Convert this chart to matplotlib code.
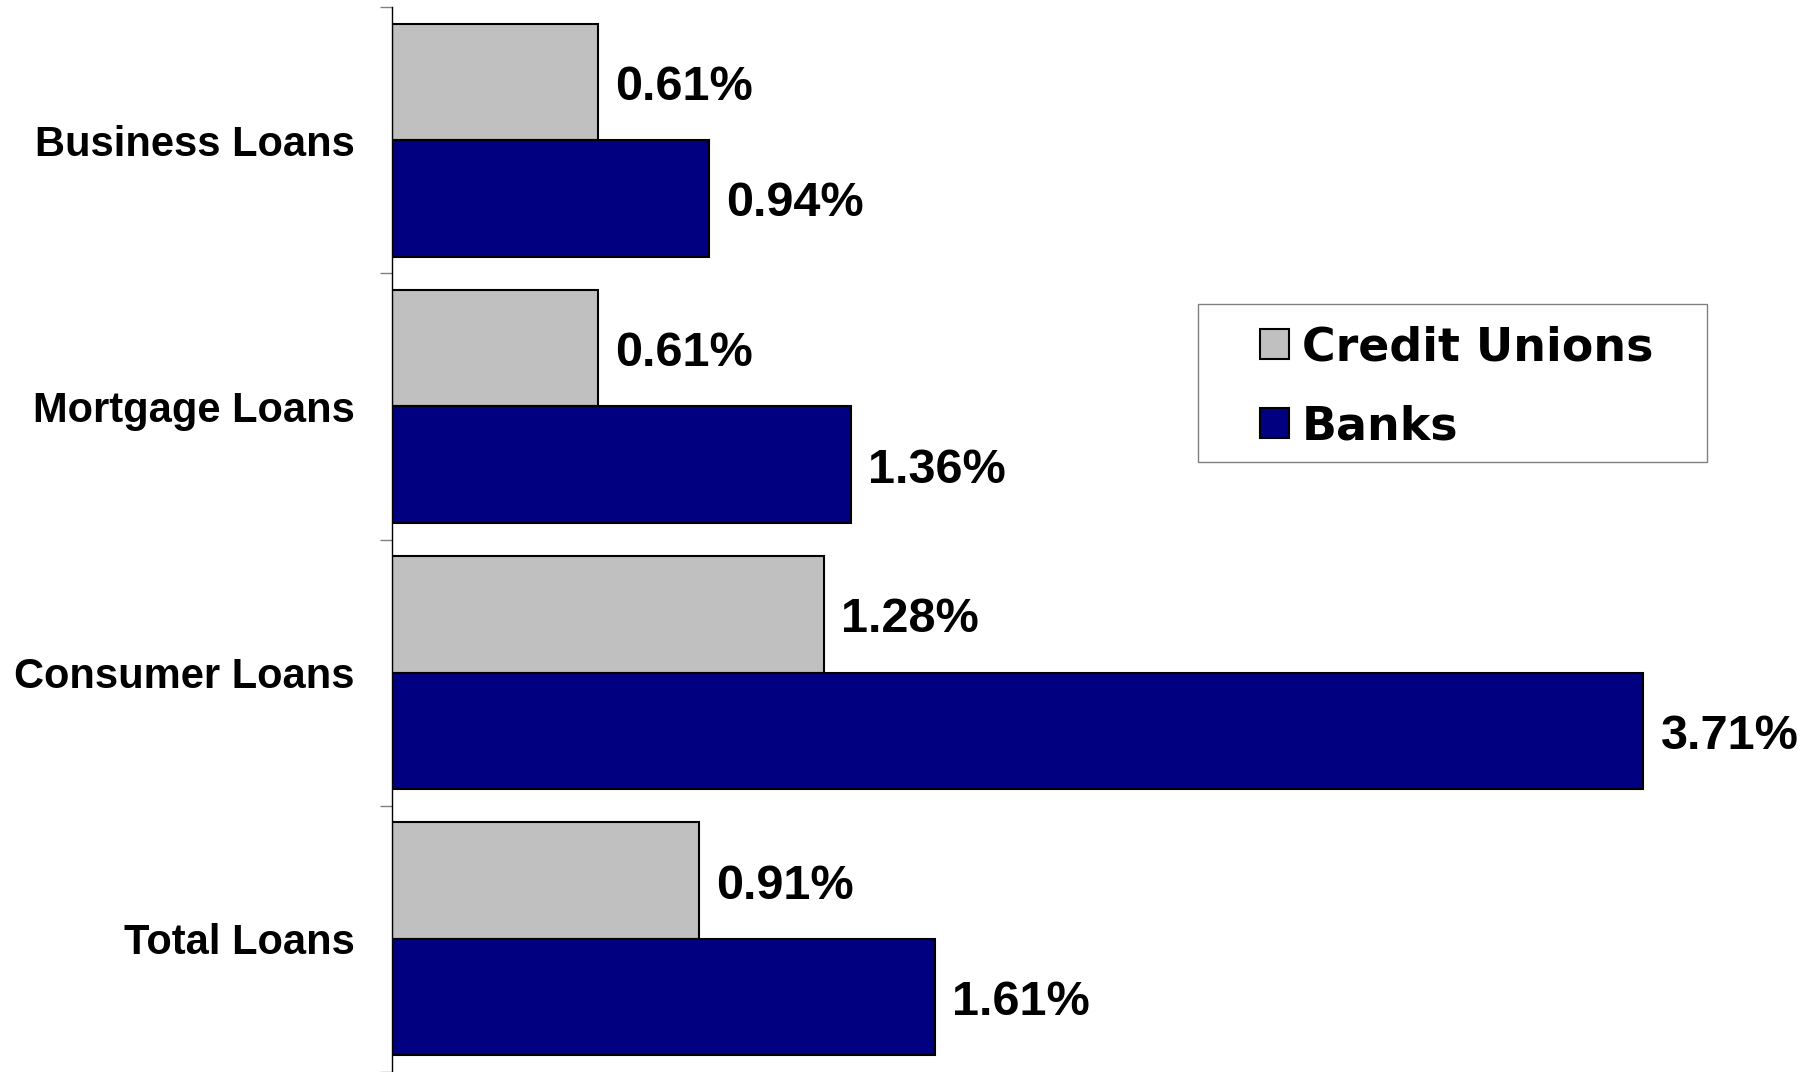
import matplotlib
matplotlib.use("Agg")
import matplotlib.pyplot as plt
from matplotlib.patches import Rectangle
import numpy as np

categories = ["Business Loans", "Mortgage Loans", "Consumer Loans", "Total Loans"]
credit_unions = [0.61, 0.61, 1.28, 0.91]
banks = [0.94, 1.36, 3.71, 1.61]
series_names = ["Credit Unions", "Banks"]
colors = ["#C0C0C0", "#000080"]

W, H = 1820, 1072
fig = plt.figure(figsize=(W / 100, H / 100), dpi=100)
ax = fig.add_axes([392 / W, 0, (1741 - 392) / W, 1065 / H])

n = len(categories)
y = np.arange(n)
bw = 0.4375
ax.barh(y - bw / 2, credit_unions, height=bw, color=colors[0], edgecolor="black", linewidth=1.5, label=series_names[0])
ax.barh(y + bw / 2, banks, height=bw, color=colors[1], edgecolor="black", linewidth=1.5, label=series_names[1])

for vals, off in ((credit_unions, -bw / 2), (banks, bw / 2)):
    for i, v in enumerate(vals):
        ax.annotate(f"{v:.2f}%", (v, i + off), xytext=(12.5, -4), textcoords="offset points",
                    va="center", ha="left", fontsize=35, fontweight="bold", family="Liberation Sans")

ax.set_xlim(0, 4)
ax.set_ylim(n - 0.5, -0.5)
for s in ("top", "right", "bottom"):
    ax.spines[s].set_visible(False)
ax.spines["left"].set_color("black")
ax.spines["left"].set_linewidth(1.0)
ax.set_xticks([])
ax.set_yticks(np.arange(n + 1) - 0.5)
ax.set_yticklabels([])
ax.tick_params(axis="y", which="major", length=8.5, color="#808080", width=1.0)
ax.set_yticks(y, minor=True)
ax.set_yticklabels(categories, minor=True, fontsize=30, fontweight="bold", family="Liberation Sans")
ax.tick_params(axis="y", which="minor", length=0, pad=27)

# legend frame
fig.patches.append(Rectangle((1198 / W, 1 - 462 / H), (1707 - 1198) / W, (462 - 304) / H,
                             transform=fig.transFigure, facecolor="white",
                             edgecolor="#808080", linewidth=1.0, zorder=5))
leg = fig.legend(loc="upper left", bbox_to_anchor=(1260 / W, 1 - 325 / H),
                 prop={"family": "DejaVu Sans", "weight": "bold", "size": 33},
                 frameon=False, handlelength=0.63, handleheight=0.63, handletextpad=0.28,
                 labelspacing=0.75, borderpad=0, borderaxespad=0)
leg.set_zorder(6)
for h in leg.legend_handles:
    h.set_edgecolor("black")
    h.set_linewidth(1.5)

fig.savefig("out.png", dpi=100)
